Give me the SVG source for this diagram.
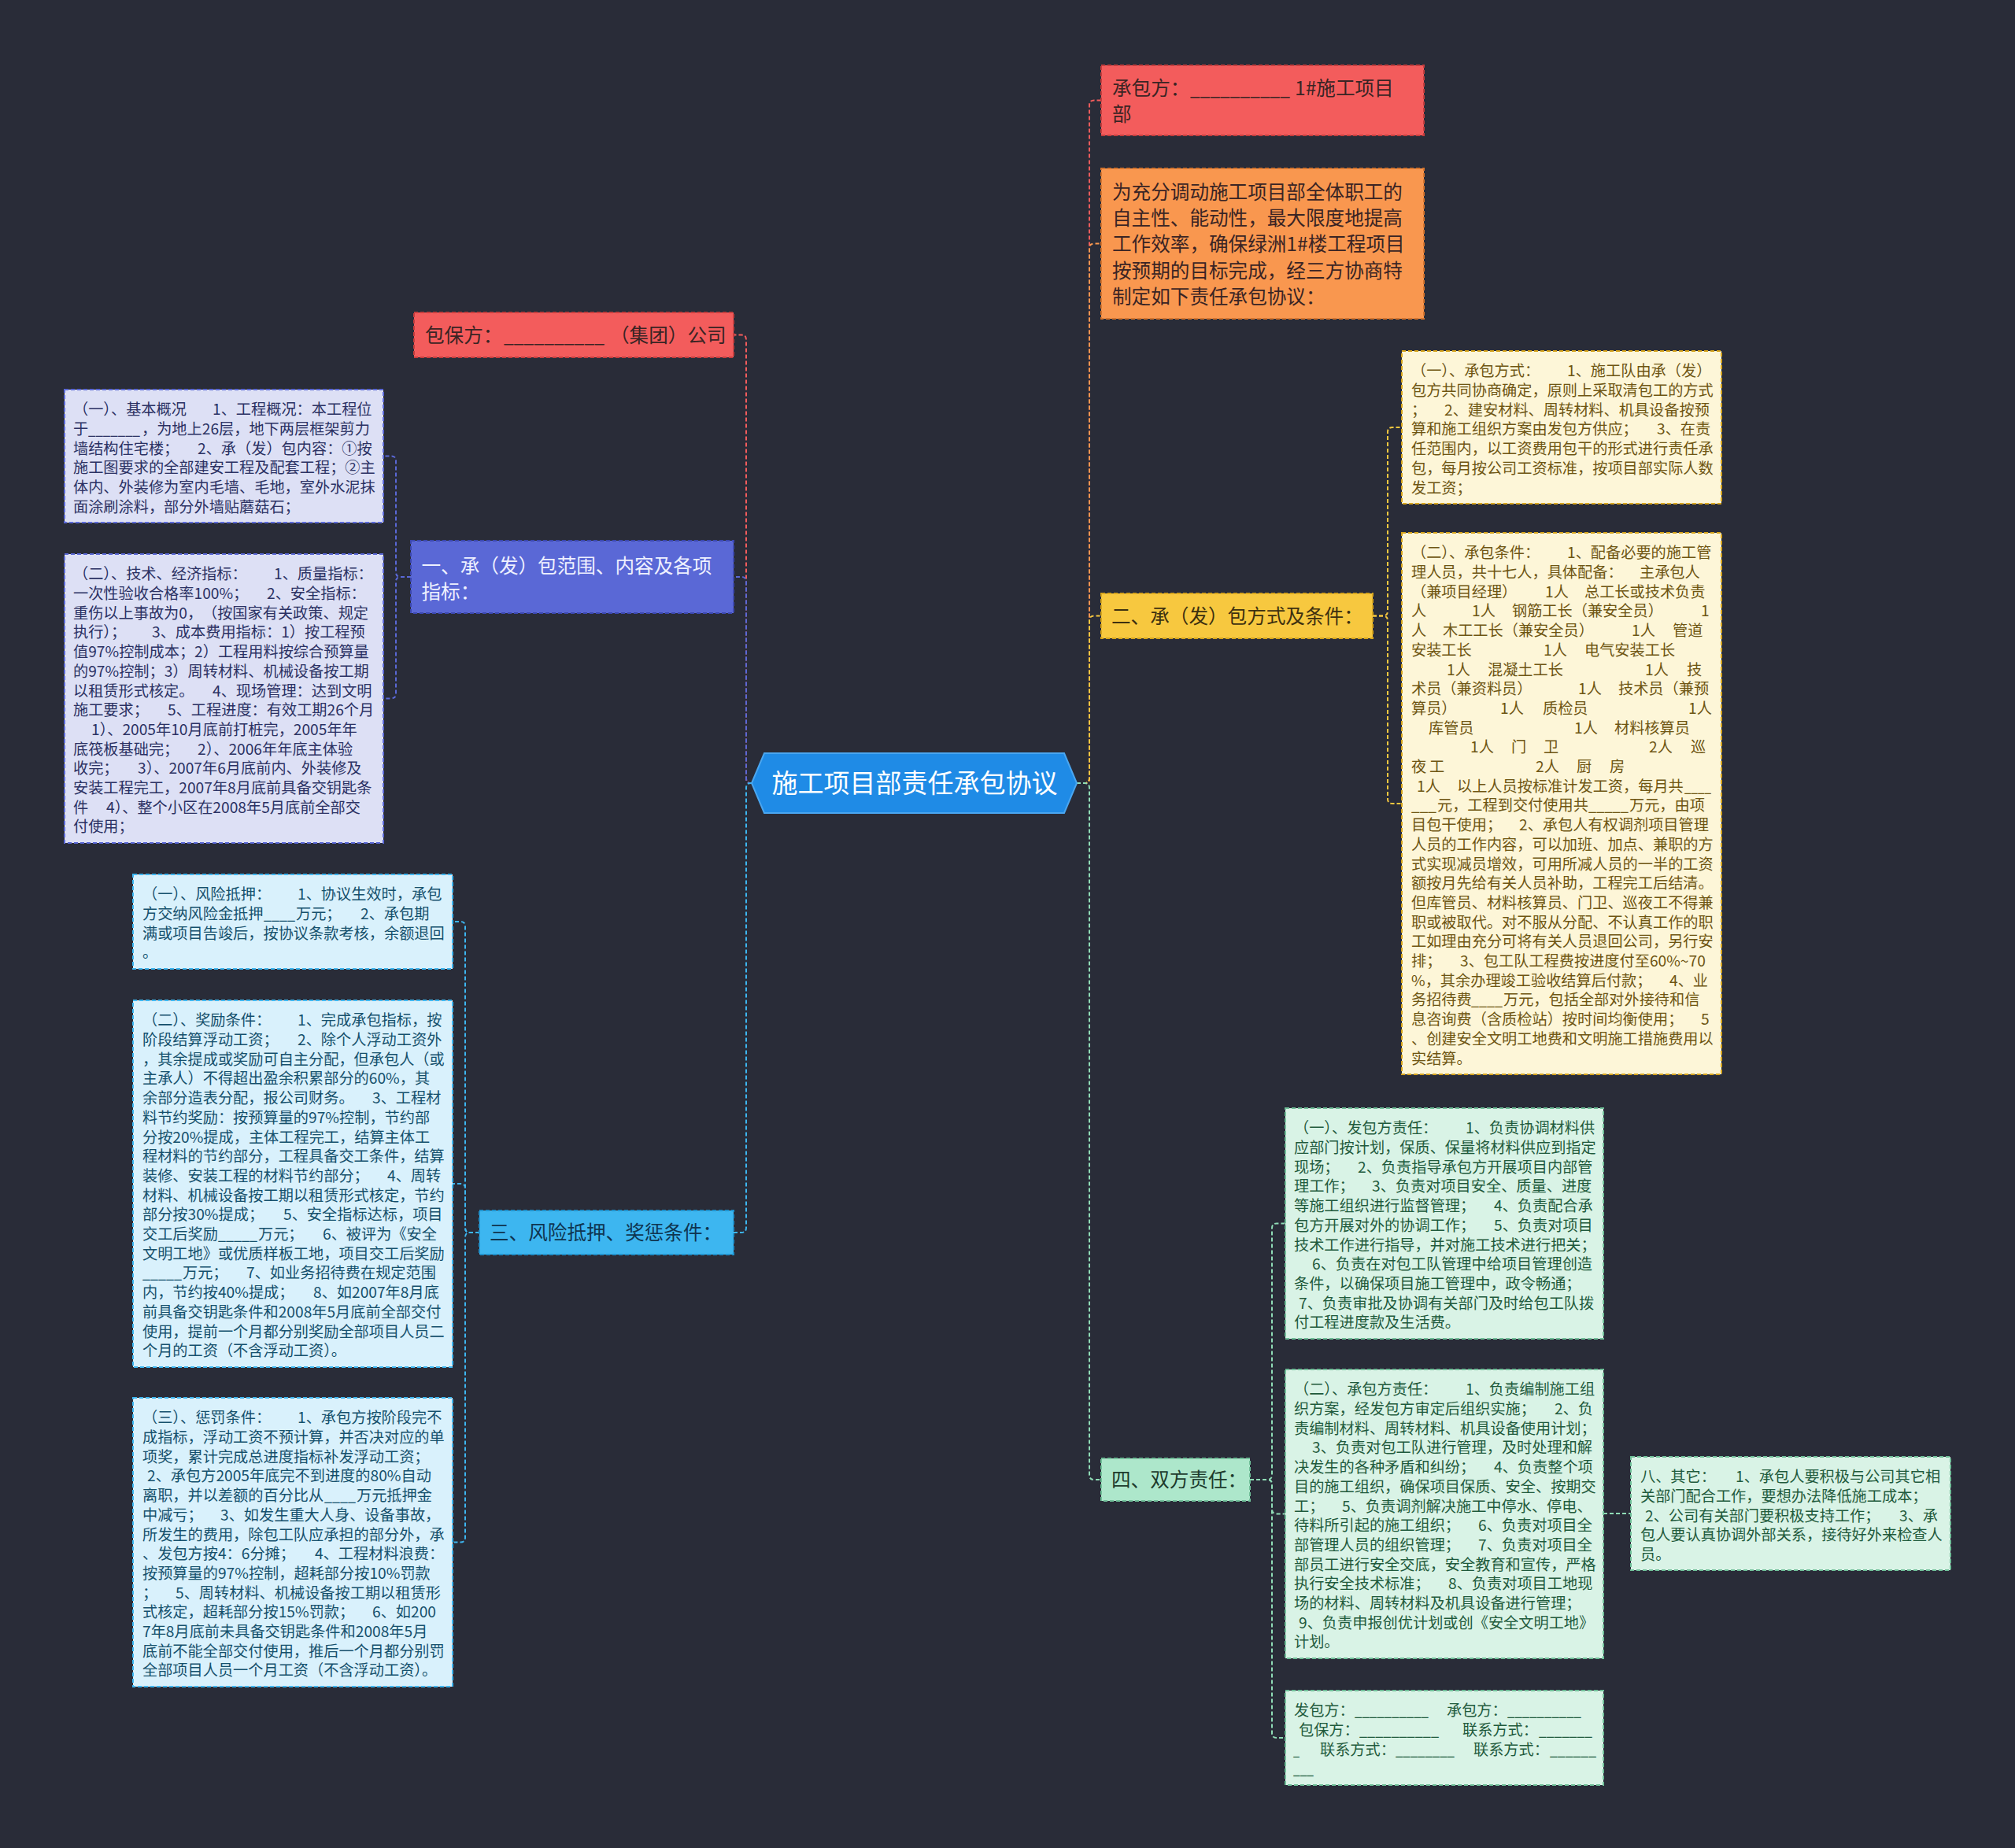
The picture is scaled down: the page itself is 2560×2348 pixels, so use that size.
<svg xmlns="http://www.w3.org/2000/svg" width="2560" height="2348" viewBox="0 0 2560 2348">
<style>
.tx{font-family:"Noto Sans CJK SC","Noto Sans",sans-serif;font-size:19.2px}
.tb{font-family:"Noto Sans CJK SC","Noto Sans",sans-serif;font-size:24.6px}
.tc{font-family:"Noto Sans CJK SC","Noto Sans",sans-serif;font-size:33px;fill:#ffffff}
.c{fill:none;stroke-width:2;stroke-dasharray:5 3}
.nb{stroke-width:2;stroke-dasharray:5 3}
.red{fill:#f35c5c;stroke:#c43d3d}
.org{fill:#f9974f;stroke:#d5742d}
.yel{fill:#f7c83f;stroke:#d6a41c}
.grn{fill:#ade7cb;stroke:#6fbf98}
.blu{fill:#5a68d6;stroke:#3c48b0}
.cyn{fill:#3db6f0;stroke:#1f91cc}
.lav{fill:#dde0f5;stroke:#5a68d6}
.lcy{fill:#d9f1fc;stroke:#3db6f0}
.crm{fill:#fdf6d8;stroke:#d6a41c}
.mnt{fill:#d9f3e6;stroke:#6fbf98}
.tlav{fill:#2b3163}
.tlcy{fill:#15506c}
.tcrm{fill:#6e5512}
.tmnt{fill:#1f5a3c}
.tdk{fill:#3a2424}
</style>
<rect x="0" y="0" width="2560" height="2348" fill="#292c38"/>

<g id="connectors">
<path class="c" stroke="#f35c5c" d="M1368 995 H1378 Q1384 995 1384 989 V133.5 Q1384 127.5 1390 127.5 H1399"/>
<path class="c" stroke="#f9974f" d="M1368 995 H1378 Q1384 995 1384 989 V315.5 Q1384 309.5 1390 309.5 H1399"/>
<path class="c" stroke="#f7c83f" d="M1368 995 H1378 Q1384 995 1384 989 V788.5 Q1384 782.5 1390 782.5 H1399"/>
<path class="c" stroke="#8fdcb6" d="M1368 995 H1378 Q1384 995 1384 1001 V1874 Q1384 1880 1390 1880 H1399"/>
<path class="c" stroke="#f35c5c" d="M955 995 H954 Q948 995 948 989 V431.5 Q948 425.5 942 425.5 H932"/>
<path class="c" stroke="#5a68d6" d="M955 995 H954 Q948 995 948 989 V739 Q948 733 942 733 H932"/>
<path class="c" stroke="#3db6f0" d="M955 995 H954 Q948 995 948 1001 V1560 Q948 1566 942 1566 H932"/>
<path class="c" stroke="#5a68d6" d="M522 733 H509 Q503 733 503 727 V585.5 Q503 579.5 497 579.5 H487"/>
<path class="c" stroke="#5a68d6" d="M522 733 H509 Q503 733 503 739 V881.4 Q503 887.4 497 887.4 H487"/>
<path class="c" stroke="#3db6f0" d="M609 1566 H597 Q591 1566 591 1560 V1177 Q591 1171 585 1171 H575"/>
<path class="c" stroke="#3db6f0" d="M609 1566 H597 Q591 1566 591 1560 V1510 Q591 1504 585 1504 H575"/>
<path class="c" stroke="#3db6f0" d="M609 1566 H597 Q591 1566 591 1572 V1953.5 Q591 1959.5 585 1959.5 H575"/>
<path class="c" stroke="#f7c83f" d="M1744 782.5 H1757 Q1763 782.5 1763 776.5 V549 Q1763 543 1769 543 H1781"/>
<path class="c" stroke="#f7c83f" d="M1744 782.5 H1757 Q1763 782.5 1763 788.5 V1015 Q1763 1021 1769 1021 H1781"/>
<path class="c" stroke="#8fdcb6" d="M1588 1880 H1610 Q1616 1880 1616 1874 V1560.4 Q1616 1554.4 1622 1554.4 H1633"/>
<path class="c" stroke="#8fdcb6" d="M1588 1880 H1610 Q1616 1880 1616 1886 V1917.4 Q1616 1923.4 1622 1923.4 H1633"/>
<path class="c" stroke="#8fdcb6" d="M1588 1880 H1610 Q1616 1880 1616 1886 V2202 Q1616 2208 1622 2208 H1633"/>
<path class="c" stroke="#8fdcb6" d="M2037 1923 H2072"/>
</g>

<g id="center">
<polygon points="955,995 971,957 1352,957 1368,995 1352,1033 971,1033" fill="#1f8be6" stroke="#4aa6f0" stroke-width="2"/>
<text class="tc" x="1162" y="1007" text-anchor="middle">施工项目部责任承包协议</text>
</g>

<g id="n-chengbaofang">
<rect class="nb red" x="1399" y="83" width="410" height="89"/>
<text class="tb tdk"><tspan x="1413" y="121">承包方：</tspan><tspan x="1512" textLength="127" lengthAdjust="spacingAndGlyphs">__________</tspan><tspan x="1645">1#施工项目</tspan><tspan x="1413" y="154">部</tspan></text>
</g>

<g id="n-intro">
<rect class="nb org" x="1399" y="214" width="410" height="191"/>
<text class="tb tdk"><tspan x="1413" y="252.6">为充分调动施工项目部全体职工的</tspan><tspan x="1413" y="285.9">自主性、能动性，最大限度地提高</tspan><tspan x="1413" y="319.2">工作效率，确保绿洲1#楼工程项目</tspan><tspan x="1413" y="352.5">按预期的目标完成，经三方协商特</tspan><tspan x="1413" y="385.8">制定如下责任承包协议：</tspan></text>
</g>

<g id="n-baobaofang">
<rect class="nb red" x="526" y="397" width="406" height="57"/>
<text class="tb tdk"><tspan x="540" y="434.5">包保方：</tspan><tspan x="640" textLength="128" lengthAdjust="spacingAndGlyphs">__________</tspan><tspan x="775">（集团）公司</tspan></text>
</g>

<g id="n-one">
<rect class="nb blu" x="522" y="687" width="410" height="92"/>
<text class="tb" fill="#eef0ff"><tspan x="535.5" y="727.5">一、承（发）包范围、内容及各项</tspan><tspan x="535.5" y="760.5">指标：</tspan></text>
</g>

<g id="n-three">
<rect class="nb cyn" x="609" y="1538" width="323" height="56"/>
<text class="tb" fill="#0f3550" x="622" y="1575">三、风险抵押、奖惩条件：</text>
</g>

<g id="n-two">
<rect class="nb yel" x="1399" y="754" width="345" height="57"/>
<text class="tb" fill="#3d3010" x="1412" y="791.5">二、承（发）包方式及条件：</text>
</g>

<g id="n-four">
<rect class="nb grn" x="1399" y="1853" width="189" height="54"/>
<text class="tb" fill="#1d3b2d" x="1412" y="1889">四、双方责任：</text>
</g>

<g id="n-jbgk">
<rect class="nb lav" x="82" y="495" width="405" height="169"/>
<text class="tx tlav" y="527.3"><tspan x="93">（一）、基本概况</tspan><tspan x="270">1、工程概况：本工程位</tspan>
<tspan x="93" dy="24.7">于</tspan><tspan x="112" textLength="66" lengthAdjust="spacingAndGlyphs">_______</tspan><tspan x="180">，为地上26层，地下两层框架剪力</tspan>
<tspan x="93" dy="24.7">墙结构住宅楼；</tspan><tspan x="251">2、承（发）包内容：①按</tspan>
<tspan x="93" dy="24.7">施工图要求的全部建安工程及配套工程；②主</tspan>
<tspan x="93" dy="24.7">体内、外装修为室内毛墙、毛地，室外水泥抹</tspan>
<tspan x="93" dy="24.7">面涂刷涂料，部分外墙贴蘑菇石；</tspan></text>
</g>

<g id="n-jsjj">
<rect class="nb lav" x="82" y="704" width="405" height="367"/>
<text class="tx tlav" y="736.3"><tspan x="93">（二）、技术、经济指标：</tspan><tspan x="348">1、质量指标：</tspan>
<tspan x="93" dy="24.7">一次性验收合格率100%；</tspan><tspan x="339">2、安全指标：</tspan>
<tspan x="93" dy="24.7">重伤以上事故为0，</tspan><tspan x="257">（按国家有关政策、规定</tspan>
<tspan x="93" dy="24.7">执行）；</tspan><tspan x="193">3、成本费用指标：1）按工程预</tspan>
<tspan x="93" dy="24.7">值97%控制成本；2）工程用料按综合预算量</tspan>
<tspan x="93" dy="24.7">的97%控制；3）周转材料、机械设备按工期</tspan>
<tspan x="93" dy="24.7">以租赁形式核定。</tspan><tspan x="270">4、现场管理：达到文明</tspan>
<tspan x="93" dy="24.7">施工要求；</tspan><tspan x="213">5、工程进度：有效工期26个月</tspan>
<tspan x="116" dy="24.7">1）、2005年10月底前打桩完，2005年年</tspan>
<tspan x="93" dy="24.7">底筏板基础完；</tspan><tspan x="251">2）、2006年年底主体验</tspan>
<tspan x="93" dy="24.7">收完；</tspan><tspan x="175">3）、2007年6月底前内、外装修及</tspan>
<tspan x="93" dy="24.7">安装工程完工，2007年8月底前具备交钥匙条</tspan>
<tspan x="93" dy="24.7">件</tspan><tspan x="135">4）、整个小区在2008年5月底前全部交</tspan>
<tspan x="93" dy="24.7">付使用；</tspan></text>
</g>

<g id="n-fxdy">
<rect class="nb lcy" x="169" y="1111" width="406" height="120"/>
<text class="tx tlcy" y="1143.3"><tspan x="181">（一）、风险抵押：</tspan><tspan x="378">1、协议生效时，承包</tspan>
<tspan x="181" dy="24.7">方交纳风险金抵押</tspan><tspan x="335" textLength="40" lengthAdjust="spacingAndGlyphs">____</tspan><tspan x="376">万元；</tspan><tspan x="458">2、承包期</tspan>
<tspan x="181" dy="24.7">满或项目告竣后，按协议条款考核，余额退回</tspan>
<tspan x="181" dy="24.7">。</tspan></text>
</g>

<g id="n-jltj">
<rect class="nb lcy" x="169" y="1271" width="406" height="466"/>
<text class="tx tlcy" y="1303.3"><tspan x="181">（二）、奖励条件：</tspan><tspan x="378">1、完成承包指标，按</tspan>
<tspan x="181" dy="24.7">阶段结算浮动工资；</tspan><tspan x="378">2、除个人浮动工资外</tspan>
<tspan x="181" dy="24.7">，其余提成或奖励可自主分配，但承包人（或</tspan>
<tspan x="181" dy="24.7">主承人）不得超出盈余积累部分的60%，其</tspan>
<tspan x="181" dy="24.7">余部分造表分配，报公司财务。</tspan><tspan x="473">3、工程材</tspan>
<tspan x="181" dy="24.7">料节约奖励：按预算量的97%控制，节约部</tspan>
<tspan x="181" dy="24.7">分按20%提成，主体工程完工，结算主体工</tspan>
<tspan x="181" dy="24.7">程材料的节约部分，工程具备交工条件，结算</tspan>
<tspan x="181" dy="24.7">装修、安装工程的材料节约部分；</tspan><tspan x="492">4、周转</tspan>
<tspan x="181" dy="24.7">材料、机械设备按工期以租赁形式核定，节约</tspan>
<tspan x="181" dy="24.7">部分按30%提成；</tspan><tspan x="360">5、安全指标达标，项目</tspan>
<tspan x="181" dy="24.7">交工后奖励</tspan><tspan x="277" textLength="50" lengthAdjust="spacingAndGlyphs">_____</tspan><tspan x="328">万元；</tspan><tspan x="410">6、被评为《安全</tspan>
<tspan x="181" dy="24.7">文明工地》或优质样板工地，项目交工后奖励</tspan>
<tspan x="181" dy="24.7" textLength="50" lengthAdjust="spacingAndGlyphs">_____</tspan><tspan x="232">万元；</tspan><tspan x="313">7、如业务招待费在规定范围</tspan>
<tspan x="181" dy="24.7">内，节约按40%提成；</tspan><tspan x="398">8、如2007年8月底</tspan>
<tspan x="181" dy="24.7">前具备交钥匙条件和2008年5月底前全部交付</tspan>
<tspan x="181" dy="24.7">使用，提前一个月都分别奖励全部项目人员二</tspan>
<tspan x="181" dy="24.7">个月的工资（不含浮动工资）。</tspan></text>
</g>

<g id="n-cftj">
<rect class="nb lcy" x="169" y="1776" width="406" height="367"/>
<text class="tx tlcy" y="1808.3"><tspan x="181">（三）、惩罚条件：</tspan><tspan x="378">1、承包方按阶段完不</tspan>
<tspan x="181" dy="24.7">成指标，浮动工资不预计算，并否决对应的单</tspan>
<tspan x="181" dy="24.7">项奖，累计完成总进度指标补发浮动工资；</tspan>
<tspan x="187" dy="24.7">2、承包方2005年底完不到进度的80%自动</tspan>
<tspan x="181" dy="24.7">离职，并以差额的百分比从</tspan><tspan x="412" textLength="40" lengthAdjust="spacingAndGlyphs">____</tspan><tspan x="453">万元抵押金</tspan>
<tspan x="181" dy="24.7">中减亏；</tspan><tspan x="280">3、如发生重大人身、设备事故，</tspan>
<tspan x="181" dy="24.7">所发生的费用，除包工队应承担的部分外，承</tspan>
<tspan x="181" dy="24.7">、发包方按4：6分摊；</tspan><tspan x="400">4、工程材料浪费：</tspan>
<tspan x="181" dy="24.7">按预算量的97%控制，超耗部分按10%罚款</tspan>
<tspan x="181" dy="24.7">；</tspan><tspan x="223">5、周转材料、机械设备按工期以租赁形</tspan>
<tspan x="181" dy="24.7">式核定，超耗部分按15%罚款；</tspan><tspan x="473">6、如200</tspan>
<tspan x="181" dy="24.7">7年8月底前未具备交钥匙条件和2008年5月</tspan>
<tspan x="181" dy="24.7">底前不能全部交付使用，推后一个月都分别罚</tspan>
<tspan x="181" dy="24.7">全部项目人员一个月工资（不含浮动工资）。</tspan></text>
</g>

<g id="n-cbfs">
<rect class="nb crm" x="1781" y="446" width="406" height="194"/>
<text class="tx tcrm" y="478.3"><tspan x="1793">（一）、承包方式：</tspan><tspan x="1991">1、施工队由承（发）</tspan>
<tspan x="1793" dy="24.7">包方共同协商确定，原则上采取清包工的方式</tspan>
<tspan x="1793" dy="24.7">；</tspan><tspan x="1835">2、建安材料、周转材料、机具设备按预</tspan>
<tspan x="1793" dy="24.7">算和施工组织方案由发包方供应；</tspan><tspan x="2105">3、在责</tspan>
<tspan x="1793" dy="24.7">任范围内，以工资费用包干的形式进行责任承</tspan>
<tspan x="1793" dy="24.7">包，每月按公司工资标准，按项目部实际人数</tspan>
<tspan x="1793" dy="24.7">发工资；</tspan></text>
</g>

<g id="n-cbtj">
<rect class="nb crm" x="1781" y="677" width="406" height="688"/>
<text class="tx tcrm" y="709.3"><tspan x="1793">（二）、承包条件：</tspan><tspan x="1991">1、配备必要的施工管</tspan>
<tspan x="1793" dy="24.7">理人员，共十七人，具体配备：</tspan><tspan x="2083">主承包人</tspan>
<tspan x="1793" dy="24.7">（兼项目经理）</tspan><tspan x="1963">1人</tspan><tspan x="2013">总工长或技术负责</tspan>
<tspan x="1793" dy="24.7">人</tspan><tspan x="1870">1人</tspan><tspan x="1921">钢筋工长（兼安全员）</tspan><tspan x="2161">1</tspan>
<tspan x="1793" dy="24.7">人</tspan><tspan x="1833">木工工长（兼安全员）</tspan><tspan x="2073">1人</tspan><tspan x="2125">管道</tspan>
<tspan x="1793" dy="24.7">安装工长</tspan><tspan x="1961">1人</tspan><tspan x="2013">电气安装工长</tspan>
<tspan x="1838" dy="24.7">1人</tspan><tspan x="1890">混凝土工长</tspan><tspan x="2090">1人</tspan><tspan x="2143">技</tspan>
<tspan x="1793" dy="24.7">术员（兼资料员）</tspan><tspan x="2005">1人</tspan><tspan x="2056">技术员（兼预</tspan>
<tspan x="1793" dy="24.7">算员）</tspan><tspan x="1906">1人</tspan><tspan x="1960">质检员</tspan><tspan x="2145">1人</tspan>
<tspan x="1815" dy="24.7">库管员</tspan><tspan x="2000">1人</tspan><tspan x="2051">材料核算员</tspan>
<tspan x="1868" dy="24.7">1人</tspan><tspan x="1920">门</tspan><tspan x="1961">卫</tspan><tspan x="2095">2人</tspan><tspan x="2148">巡</tspan>
<tspan x="1793" dy="24.7">夜</tspan><tspan x="1816">工</tspan><tspan x="1951">2人</tspan><tspan x="2003">厨</tspan><tspan x="2045">房</tspan>
<tspan x="1800" dy="24.7">1人</tspan><tspan x="1851">以上人员按标准计发工资，每月共</tspan><tspan x="2140" textLength="34" lengthAdjust="spacingAndGlyphs">____</tspan>
<tspan x="1793" dy="24.7" textLength="32" lengthAdjust="spacingAndGlyphs">___</tspan><tspan x="1826">元，工程到交付使用共</tspan><tspan x="2018" textLength="51" lengthAdjust="spacingAndGlyphs">_____</tspan><tspan x="2070">万元，由项</tspan>
<tspan x="1793" dy="24.7">目包干使用；</tspan><tspan x="1930">2、承包人有权调剂项目管理</tspan>
<tspan x="1793" dy="24.7">人员的工作内容，可以加班、加点、兼职的方</tspan>
<tspan x="1793" dy="24.7">式实现减员增效，可用所减人员的一半的工资</tspan>
<tspan x="1793" dy="24.7">额按月先给有关人员补助，工程完工后结清。</tspan>
<tspan x="1793" dy="24.7">但库管员、材料核算员、门卫、巡夜工不得兼</tspan>
<tspan x="1793" dy="24.7">职或被取代。对不服从分配、不认真工作的职</tspan>
<tspan x="1793" dy="24.7">工如理由充分可将有关人员退回公司，另行安</tspan>
<tspan x="1793" dy="24.7">排；</tspan><tspan x="1855">3、包工队工程费按进度付至60%~70</tspan>
<tspan x="1793" dy="24.7">%，其余办理竣工验收结算后付款；</tspan><tspan x="2121">4、业</tspan>
<tspan x="1793" dy="24.7">务招待费</tspan><tspan x="1869" textLength="40" lengthAdjust="spacingAndGlyphs">____</tspan><tspan x="1910">万元，包括全部对外接待和信</tspan>
<tspan x="1793" dy="24.7">息咨询费（含质检站）按时间均衡使用；</tspan><tspan x="2161">5</tspan>
<tspan x="1793" dy="24.7">、创建安全文明工地费和文明施工措施费用以</tspan>
<tspan x="1793" dy="24.7">实结算。</tspan></text>
</g>

<g id="n-fbfzr">
<rect class="nb mnt" x="1633" y="1408" width="404" height="293"/>
<text class="tx tmnt" y="1440.3"><tspan x="1644">（一）、发包方责任：</tspan><tspan x="1862">1、负责协调材料供</tspan>
<tspan x="1644" dy="24.7">应部门按计划，保质、保量将材料供应到指定</tspan>
<tspan x="1644" dy="24.7">现场；</tspan><tspan x="1725">2、负责指导承包方开展项目内部管</tspan>
<tspan x="1644" dy="24.7">理工作；</tspan><tspan x="1743">3、负责对项目安全、质量、进度</tspan>
<tspan x="1644" dy="24.7">等施工组织进行监督管理；</tspan><tspan x="1898">4、负责配合承</tspan>
<tspan x="1644" dy="24.7">包方开展对外的协调工作；</tspan><tspan x="1898">5、负责对项目</tspan>
<tspan x="1644" dy="24.7">技术工作进行指导，并对施工技术进行把关；</tspan>
<tspan x="1667" dy="24.7">6、负责在对包工队管理中给项目管理创造</tspan>
<tspan x="1644" dy="24.7">条件，以确保项目施工管理中，政令畅通；</tspan>
<tspan x="1650" dy="24.7">7、负责审批及协调有关部门及时给包工队拨</tspan>
<tspan x="1644" dy="24.7">付工程进度款及生活费。</tspan></text>
</g>

<g id="n-cbfzr">
<rect class="nb mnt" x="1633" y="1740" width="404" height="367"/>
<text class="tx tmnt" y="1772.3"><tspan x="1644">（二）、承包方责任：</tspan><tspan x="1862">1、负责编制施工组</tspan>
<tspan x="1644" dy="24.7">织方案，经发包方审定后组织实施；</tspan><tspan x="1975">2、负</tspan>
<tspan x="1644" dy="24.7">责编制材料、周转材料、机具设备使用计划；</tspan>
<tspan x="1667" dy="24.7">3、负责对包工队进行管理，及时处理和解</tspan>
<tspan x="1644" dy="24.7">决发生的各种矛盾和纠纷；</tspan><tspan x="1898">4、负责整个项</tspan>
<tspan x="1644" dy="24.7">目的施工组织，确保项目保质、安全、按期交</tspan>
<tspan x="1644" dy="24.7">工；</tspan><tspan x="1705">5、负责调剂解决施工中停水、停电、</tspan>
<tspan x="1644" dy="24.7">待料所引起的施工组织；</tspan><tspan x="1878">6、负责对项目全</tspan>
<tspan x="1644" dy="24.7">部管理人员的组织管理；</tspan><tspan x="1878">7、负责对项目全</tspan>
<tspan x="1644" dy="24.7">部员工进行安全交底，安全教育和宣传，严格</tspan>
<tspan x="1644" dy="24.7">执行安全技术标准；</tspan><tspan x="1840">8、负责对项目工地现</tspan>
<tspan x="1644" dy="24.7">场的材料、周转材料及机具设备进行管理；</tspan>
<tspan x="1650" dy="24.7">9、负责申报创优计划或创《安全文明工地》</tspan>
<tspan x="1644" dy="24.7">计划。</tspan></text>
</g>

<g id="n-qita">
<rect class="nb mnt" x="2072" y="1851" width="406" height="144"/>
<text class="tx tmnt" y="1883.3"><tspan x="2084">八、其它：</tspan><tspan x="2205">1、承包人要积极与公司其它相</tspan>
<tspan x="2084" dy="24.7">关部门配合工作，要想办法降低施工成本；</tspan>
<tspan x="2090" dy="24.7">2、公司有关部门要积极支持工作；</tspan><tspan x="2413">3、承</tspan>
<tspan x="2084" dy="24.7">包人要认真协调外部关系，接待好外来检查人</tspan>
<tspan x="2084" dy="24.7">员。</tspan></text>
</g>

<g id="n-sign">
<rect class="nb mnt" x="1633" y="2148" width="404" height="120"/>
<text class="tx tmnt" y="2180.3"><tspan x="1644">发包方：</tspan><tspan x="1721" textLength="94" lengthAdjust="spacingAndGlyphs">__________</tspan><tspan x="1838">承包方：</tspan><tspan x="1915" textLength="94" lengthAdjust="spacingAndGlyphs">__________</tspan>
<tspan x="1650" dy="24.7">包保方：</tspan><tspan x="1727" textLength="101" lengthAdjust="spacingAndGlyphs">__________</tspan><tspan x="1858">联系方式：</tspan><tspan x="1955" textLength="68" lengthAdjust="spacingAndGlyphs">_______</tspan>
<tspan x="1643" dy="24.7" textLength="8" lengthAdjust="spacingAndGlyphs">_</tspan><tspan x="1677">联系方式：</tspan><tspan x="1773" textLength="75" lengthAdjust="spacingAndGlyphs">________</tspan><tspan x="1872">联系方式：</tspan><tspan x="1969" textLength="59" lengthAdjust="spacingAndGlyphs">______</tspan>
<tspan x="1643" dy="24.7" textLength="26" lengthAdjust="spacingAndGlyphs">___</tspan></text>
</g>
</svg>
